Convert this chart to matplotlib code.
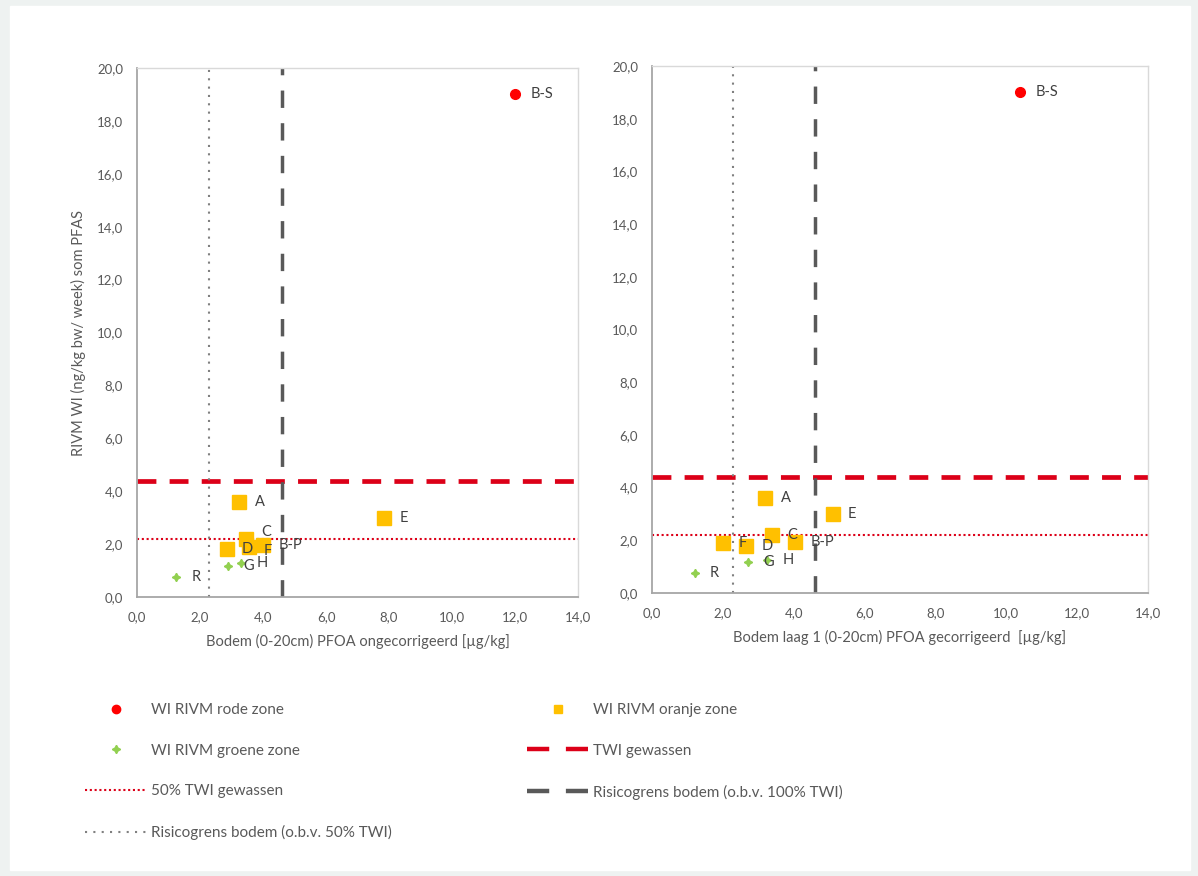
import matplotlib
matplotlib.use('Agg')
import matplotlib.pyplot as plt
from matplotlib.lines import Line2D
from matplotlib.patches import Rectangle

plt.rcParams['font.family'] = ['Lato', 'DejaVu Sans']

# data
wi_red = [19.0]                      # B-S
names_red = ['B-S']
x_red_left = [12.0]
x_red_right = [10.4]

names_orange = ['A', 'E', 'C', 'F', 'D', 'B-P']
wi_orange = [3.6, 3.0, 2.2, 1.9, 1.8, 1.95]
x_orange_left = [3.25, 7.85, 3.45, 3.55, 2.85, 4.0]
x_orange_right = [3.2, 5.1, 3.4, 2.0, 2.65, 4.05]

names_green = ['R', 'G', 'H']
wi_green = [0.75, 1.18, 1.27]
x_green_left = [1.25, 2.9, 3.3]
x_green_right = [1.2, 2.7, 3.25]

twi = 4.4
twi_half = 2.2
grens_100 = 4.6
grens_50 = 2.3

x_ticks = [0, 2, 4, 6, 8, 10, 12, 14]
y_ticks = [0, 2, 4, 6, 8, 10, 12, 14, 16, 18, 20]

RED = '#ff0000'
ORANGE = '#ffc000'
GREEN = '#92d050'
DRED = '#dc0018'
GRAY = '#595959'
LGRAY = '#808080'
TXT = '#595959'

# small label nudges (points) where labels crowd together
nudge_left = {'C': (11, 5), 'F': (11, -3)}
nudge_right = {}


def fmt(v):
    return ('%.1f' % v).replace('.', ',')


def draw(ax, xr, xo, xg, xlabel, nudge):
    ax.axhline(twi, color=DRED, lw=3.4, dashes=(4, 2.8), zorder=2)
    ax.axhline(twi_half, color=DRED, lw=1.5, dashes=(1, 1.3), zorder=2)
    ax.axvline(grens_100, color=GRAY, lw=2.5, dashes=(5, 4.4), zorder=2)
    ax.axvline(grens_50, color=LGRAY, lw=1.5, dashes=(1, 3), zorder=2)

    ax.plot(xo, wi_orange, 's', color=ORANGE, ms=10, zorder=4, ls='none')
    ax.plot(xg, wi_green, marker=(4, 1, 0), color=GREEN, ms=6, zorder=4, ls='none')
    ax.plot(xr, wi_red, 'o', color=RED, ms=7, zorder=4, ls='none')

    for xs, ys, ns in [(xr, wi_red, names_red), (xo, wi_orange, names_orange),
                       (xg, wi_green, names_green)]:
        for x, y, n in zip(xs, ys, ns):
            ax.annotate(n, (x, y), xytext=nudge.get(n, (11, 0)), textcoords='offset points',
                        ha='left', va='center', fontsize=10.5, color='#404040', zorder=5)

    ax.set_xlim(0, 14)
    ax.set_ylim(0, 20)
    ax.set_xticks(x_ticks)
    ax.set_xticklabels([fmt(v) for v in x_ticks])
    ax.set_yticks(y_ticks)
    ax.set_yticklabels([fmt(v) for v in y_ticks])
    ax.tick_params(length=0, labelsize=9.5, labelcolor=TXT, pad=10)
    ax.set_xlabel(xlabel, fontsize=10.5, color=TXT, labelpad=8)
    for s in ['left', 'bottom']:
        ax.spines[s].set_color('#a6a6a6')
        ax.spines[s].set_linewidth(1.3)
    for s in ['top', 'right']:
        ax.spines[s].set_color('#d9d9d9')
        ax.spines[s].set_linewidth(1.0)


fig = plt.figure(figsize=(11.98, 8.76), dpi=100, facecolor='#eef2f1')
fig.patches.append(Rectangle((10 / 1198, 6 / 876), 1180 / 1198, 864 / 876,
                             transform=fig.transFigure, color='white', zorder=-10))

ax1 = fig.add_axes([137 / 1198, 1 - 597 / 876, 441 / 1198, 529 / 876])
ax2 = fig.add_axes([652 / 1198, 1 - 593 / 876, 496 / 1198, 527 / 876])

draw(ax1, x_red_left, x_orange_left, x_green_left,
     'Bodem (0-20cm) PFOA ongecorrigeerd [µg/kg]', nudge_left)
draw(ax2, x_red_right, x_orange_right, x_green_right,
     'Bodem laag 1 (0-20cm) PFOA gecorrigeerd  [µg/kg]', nudge_right)
ax1.set_ylabel('RIVM WI (ng/kg bw/ week) som PFAS', fontsize=10.5, color=TXT, labelpad=8)

h_red = Line2D([], [], marker='o', color=RED, ls='none', ms=6)
h_orange = Line2D([], [], marker='s', color=ORANGE, ls='none', ms=6)
h_green = Line2D([], [], marker=(4, 1, 0), color=GREEN, ls='none', ms=6)
h_twi = Line2D([], [], color=DRED, lw=3.2, dashes=(5, 3.75))
h_twi50 = Line2D([], [], color=DRED, lw=1.5, dashes=(1, 1.3))
h_g100 = Line2D([], [], color=GRAY, lw=3.2, dashes=(5, 3.75))
h_g50 = Line2D([], [], color=LGRAY, lw=1.5, dashes=(1, 3))

leg_kw = dict(frameon=False, fontsize=11, labelcolor=TXT, handlelength=4,
              handletextpad=0.3, labelspacing=1.75, borderpad=0, borderaxespad=0,
              loc='upper left')
fig.legend([h_red, h_green, h_twi50, h_g50],
           ['WI RIVM rode zone', 'WI RIVM groene zone', '50% TWI gewassen',
            'Risicogrens bodem (o.b.v. 50% TWI)'],
           bbox_to_anchor=(85 / 1198, 1 - 703 / 876), **leg_kw)
fig.legend([h_orange, h_twi, h_g100],
           ['WI RIVM oranje zone', 'TWI gewassen', 'Risicogrens bodem (o.b.v. 100% TWI)'],
           bbox_to_anchor=(527 / 1198, 1 - 703 / 876), **leg_kw)

fig.savefig('out.png', dpi=100, facecolor=fig.get_facecolor())
